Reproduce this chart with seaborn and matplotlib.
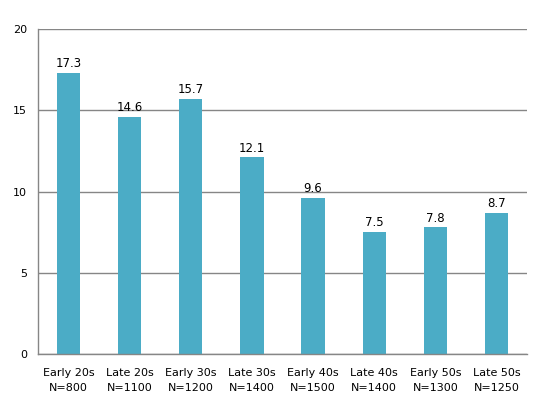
import matplotlib
matplotlib.use("Agg")
import matplotlib.pyplot as plt
import seaborn as sns
import pandas as pd

# values
groups = ["Early 20s", "Late 20s", "Early 30s", "Late 30s",
          "Early 40s", "Late 40s", "Early 50s", "Late 50s"]
sample_sizes = [800, 1100, 1200, 1400, 1500, 1400, 1300, 1250]
values = [17.3, 14.6, 15.7, 12.1, 9.6, 7.5, 7.8, 8.7]

labels = [f"{g}\nN={n}" for g, n in zip(groups, sample_sizes)]
df = pd.DataFrame({"group": labels, "value": values})

sns.set_style("white")
plt.rcParams["font.family"] = ["DejaVu Sans"]

fig = plt.figure(figsize=(5.43, 3.99), dpi=100)
ax = fig.add_axes([0.070, 0.1128, 0.9005, 0.8142])

sns.barplot(data=df, x="group", y="value", color="#4BACC6", saturation=1,
            width=0.38, linewidth=0, ax=ax)

for c in ax.containers:
    ax.bar_label(c, fmt="%.1f", padding=2, fontsize=8.5, color="black")

ax.set_ylim(0, 20)
ax.set_yticks([0, 5, 10, 15, 20])
ax.set_xlim(-0.5, len(values) - 0.5)
ax.yaxis.grid(True, color="#868686", linewidth=1)
ax.set_axisbelow(True)
ax.set_xlabel("")
ax.set_ylabel("")
ax.tick_params(axis="both", length=0, labelsize=8, colors="black")
ax.tick_params(axis="x", pad=10)
ax.tick_params(axis="y", pad=8)
for t in ax.get_xticklabels():
    t.set_linespacing(1.7)
for s in ["top", "right"]:
    ax.spines[s].set_visible(False)
for s in ["left", "bottom"]:
    ax.spines[s].set_color("#868686")
    ax.spines[s].set_linewidth(1)

fig.savefig("out.png", dpi=100)
